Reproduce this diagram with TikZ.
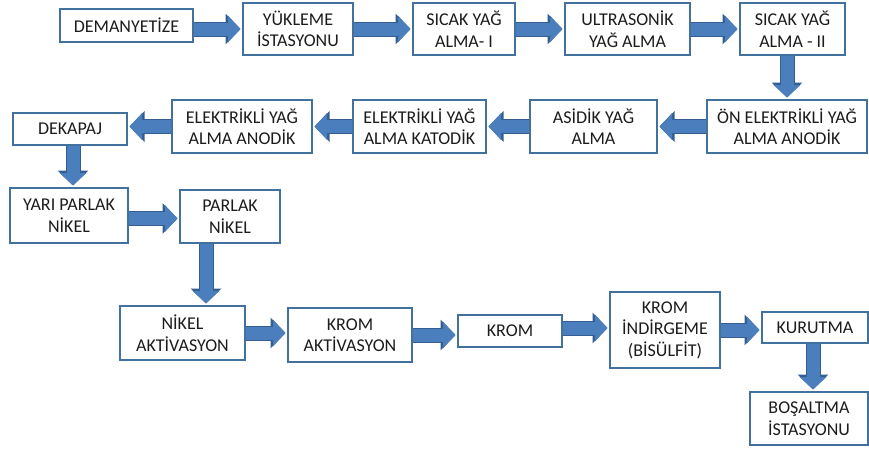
\documentclass[tikz,border=0pt]{standalone}
\usepackage{fontspec}
\setmainfont{Carlito}
\usetikzlibrary{arrows.meta}

\definecolor{boxedge}{RGB}{65,113,156}
\definecolor{flowfill}{RGB}{74,126,189}
\definecolor{flowedge}{RGB}{52,94,146}
\definecolor{inktext}{RGB}{28,28,28}

\tikzset{
  stage/.style={draw=boxedge, line width=1.8pt, fill=white, inner sep=0pt,
    align=center, text=inktext, font=\fontsize{18}{21.5}\selectfont},
  flow/.style={draw=flowfill, line width=13pt, shorten >=1.6pt,
    -{Triangle[length=12.5pt,width=26pt]},
    preaction={draw=flowedge, line width=15pt, -{Triangle[length=15pt,width=30pt]}}},
}

\begin{document}
\begin{tikzpicture}[x=1pt,y=-1pt]
\useasboundingbox (0,0) rectangle (869,450);
\fill[white] (0,0) rectangle (869,450);

% first row, left to right
\node[stage, minimum width=133, minimum height=33] (dem) at (126.5,25.5) {DEMANYETİZE};
\node[stage, minimum width=110, minimum height=52] (yuk) at (298,29) {YÜKLEME\\İSTASYONU};
\node[stage, minimum width=102, minimum height=52] (sc1) at (464,29) {SICAK YAĞ\\ALMA- I};
\node[stage, minimum width=125, minimum height=52] (ult) at (627.5,29) {ULTRASONİK\\YAĞ ALMA};
\node[stage, minimum width=105, minimum height=52] (sc2) at (792.5,29) {SICAK YAĞ\\ALMA - II};

% second row, right to left
\node[stage, minimum width=160, minimum height=53] (on)  at (787,126.5) {ÖN ELEKTRİKLİ YAĞ\\ALMA ANODİK};
\node[stage, minimum width=127, minimum height=53] (asi) at (593.5,126.5) {ASİDİK YAĞ\\ALMA};
\node[stage, minimum width=133, minimum height=53] (kat) at (419.5,126.5) {ELEKTRİKLİ YAĞ\\ALMA KATODİK};
\node[stage, minimum width=140, minimum height=53] (ano) at (242,126.5) {ELEKTRİKLİ YAĞ\\ALMA ANODİK};
\node[stage, minimum width=114, minimum height=32] (dek) at (70,129) {DEKAPAJ};

% nickel plating
\node[stage, minimum width=118, minimum height=55] (yar) at (69,215.5) {YARI PARLAK\\NİKEL};
\node[stage, minimum width=100, minimum height=53] (par) at (230,216.5) {PARLAK\\NİKEL};

% chrome line
\node[stage, minimum width=125, minimum height=54] (nak) at (182.5,333) {NİKEL\\AKTİVASYON};
\node[stage, minimum width=124, minimum height=54] (kak) at (350,335) {KROM\\AKTİVASYON};
\node[stage, minimum width=104, minimum height=32] (krm) at (510,331) {KROM};
\node[stage, minimum width=110, minimum height=76] (ind) at (665,330) {KROM\\İNDİRGEME\\(BİSÜLFİT)};
\node[stage, minimum width=106, minimum height=31] (kur) at (815,327.5) {KURUTMA};
\node[stage, minimum width=118, minimum height=53] (bos) at (809,418.5) {BOŞALTMA\\İSTASYONU};

% connectors
\draw[flow] (dem.east |- yuk.west) -- (yuk.west);
\draw[flow] (yuk.east) -- (sc1.west);
\draw[flow] (sc1.east) -- (ult.west);
\draw[flow] (ult.east) -- (sc2.west);
\draw[flow] (on.north |- sc2.south) -- (on.north);
\draw[flow] (on.west) -- (asi.east);
\draw[flow] (asi.west) -- (kat.east);
\draw[flow] (kat.west) -- (ano.east);
\draw[flow] (ano.west) -- (dek.east |- ano.west);
\draw[flow] ([xshift=3pt]dek.south) -- ([xshift=3pt]dek.south |- yar.north);
\draw[flow] ([yshift=-3pt]yar.east) -- ([yshift=-3pt]yar.east -| par.west);
\coordinate (pdrop) at ([xshift=-24pt]par.south);
\draw[flow] (pdrop) -- (pdrop |- nak.north);
\draw[flow] (nak.east) -- (nak.east -| kak.west);
\draw[flow] (kak.east) -- (kak.east -| krm.west);
\draw[flow] ([yshift=3pt]krm.east) -- ([yshift=3pt]krm.east -| ind.west);
\draw[flow] (ind.east) -- (ind.east -| kur.west);
\draw[flow] ([xshift=-2pt]kur.south) -- ([xshift=-2pt]kur.south |- bos.north);
\end{tikzpicture}
\end{document}
